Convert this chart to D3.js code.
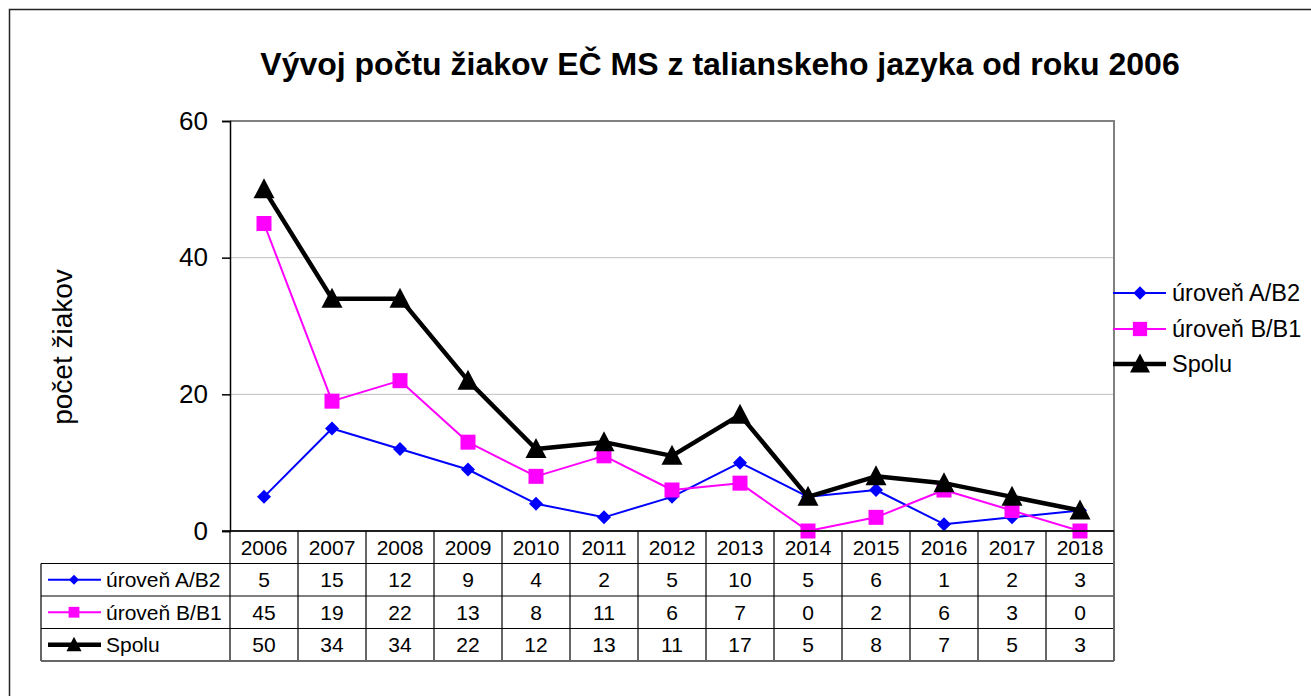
<!DOCTYPE html>
<html><head><meta charset="utf-8">
<script src="https://cdn.jsdelivr.net/npm/d3@7"></script>
<style>body{margin:0;background:#fff}svg{display:block;font-family:Arial,"Liberation Sans",sans-serif}</style>
</head><body><svg id="c" width="1311" height="696"></svg>
<script>
const years = ["2006","2007","2008","2009","2010","2011","2012","2013","2014","2015","2016","2017","2018"];
const seriesNames = ["úroveň A/B2","úroveň B/B1","Spolu"];
const valuesAB2 = [5,15,12,9,4,2,5,10,5,6,1,2,3];
const valuesBB1 = [45,19,22,13,8,11,6,7,0,2,6,3,0];
const valuesSpolu = [50,34,34,22,12,13,11,17,5,8,7,5,3];
const yTicks = [0,20,40,60];
const titleText = "Vývoj počtu žiakov EČ MS z talianskeho jazyka od roku 2006";
const yTitle = "počet žiakov";

const series = [
  {name: seriesNames[0], values: valuesAB2, color: "#0000FF", width: 2, marker: "diamond"},
  {name: seriesNames[1], values: valuesBB1, color: "#FF00FF", width: 2, marker: "square"},
  {name: seriesNames[2], values: valuesSpolu, color: "#000000", width: 4.5, marker: "triangle"}
];

const svg = d3.select("#c");
svg.append("rect").attr("x",9.5).attr("y",9.5).attr("width",1400).attr("height",800)
  .attr("fill","#fff").attr("stroke","#222").attr("stroke-width",1.5);

const L=230, R=1114, T=121, B=531;
const x = d3.scaleBand().domain(years).range([L,R]);
const y = d3.scaleLinear().domain([0,60]).range([B,T]);

svg.append("text").attr("x",720).attr("y",75).attr("text-anchor","middle")
  .attr("font-size",32).attr("font-weight","bold").text(titleText);

svg.append("g").selectAll("line").data(yTicks.filter(d=>d>0&&d<60)).join("line")
  .attr("x1",L).attr("x2",R).attr("y1",d=>y(d)).attr("y2",d=>y(d))
  .attr("stroke","#c0c0c0").attr("stroke-width",1);

svg.append("path").attr("d",`M${L},${T}H${R}V${B}`).attr("fill","none")
  .attr("stroke","#808080").attr("stroke-width",2);

const yAxis = d3.axisLeft(y).tickValues(yTicks).tickSize(8).tickPadding(14).tickFormat(d3.format("d"));
const gy = svg.append("g").attr("transform",`translate(${L},0)`).call(yAxis);
gy.select(".domain").attr("stroke","#000").attr("stroke-width",1.5);
gy.selectAll(".tick line").attr("stroke","#000").attr("stroke-width",1.5);
gy.selectAll(".tick text").attr("font-size",26).attr("fill","#000").attr("font-family","Arial,'Liberation Sans',sans-serif");

svg.append("text").attr("transform","translate(72,347) rotate(-90)").attr("text-anchor","middle")
  .attr("font-size",28).text(yTitle);

function drawMarker(g, type, cx, cy, color, scale=1){
  if(type==="diamond"){
    const s=7*scale;
    g.append("path").attr("d",`M${cx},${cy-s}L${cx+s},${cy}L${cx},${cy+s}L${cx-s},${cy}Z`).attr("fill",color);
  } else if(type==="square"){
    const s=7.5*scale;
    g.append("rect").attr("x",cx-s).attr("y",cy-s).attr("width",2*s).attr("height",2*s).attr("fill",color);
  } else {
    const w=10.5*scale;
    g.append("path").attr("d",`M${cx},${cy-11*scale}L${cx+w},${cy+9*scale}L${cx-w},${cy+9*scale}Z`).attr("fill",color);
  }
}

const line = d3.line().x((d,i)=>x(years[i])+x.bandwidth()/2).y(d=>y(d));
const gl = svg.append("g");
series.forEach(s=>{
  gl.append("path").attr("d",line(s.values)).attr("fill","none").attr("stroke",s.color)
    .attr("stroke-width",s.width).attr("stroke-linejoin","round");
  s.values.forEach((v,i)=>drawMarker(gl,s.marker,x(years[i])+x.bandwidth()/2,y(v),s.color));
});

const TL=41, rowH=32.5;
const rowsY=[B, B+rowH, B+2*rowH, B+3*rowH, B+4*rowH];
const gt = svg.append("g");
years.forEach(yr=>{
  gt.append("text").attr("x",x(yr)+x.bandwidth()/2).attr("y",rowsY[0]+rowH/2).attr("dy","0.36em")
    .attr("text-anchor","middle").attr("font-size",21).text(yr);
});
series.forEach((s,r)=>{
  const cy=rowsY[r+1]+rowH/2;
  s.values.forEach((v,i)=>{
    gt.append("text").attr("x",x(years[i])+x.bandwidth()/2).attr("y",cy).attr("dy","0.36em")
      .attr("text-anchor","middle").attr("font-size",21).text(v);
  });
  gt.append("line").attr("x1",48).attr("x2",101).attr("y1",cy).attr("y2",cy)
    .attr("stroke",s.color).attr("stroke-width",s.width);
  drawMarker(gt,s.marker,74,cy,s.color,0.72);
  gt.append("text").attr("x",106).attr("y",cy).attr("dy","0.36em").attr("font-size",21).text(s.name);
});
const tg = svg.append("g").attr("stroke","#000").attr("stroke-width",1.2);
rowsY.forEach((yy,k)=>{
  tg.append("line").attr("x1",k===0?L:TL).attr("x2",R).attr("y1",yy).attr("y2",yy);
});
tg.append("line").attr("x1",TL).attr("x2",TL).attr("y1",rowsY[1]).attr("y2",rowsY[4]);
years.forEach(yr=>{
  tg.append("line").attr("x1",x(yr)).attr("x2",x(yr)).attr("y1",rowsY[0]).attr("y2",rowsY[4]);
});
tg.append("line").attr("x1",R).attr("x2",R).attr("y1",rowsY[0]).attr("y2",rowsY[4]).attr("stroke","#666").attr("stroke-width",2);
tg.append("line").attr("x1",TL).attr("x2",R).attr("y1",rowsY[4]).attr("y2",rowsY[4]).attr("stroke","#666").attr("stroke-width",2);
svg.append("line").attr("x1",L-8).attr("x2",R).attr("y1",B).attr("y2",B).attr("stroke","#000").attr("stroke-width",1.5);

const lg = svg.append("g");
const legY=[293,329,364];
series.forEach((s,i)=>{
  lg.append("line").attr("x1",1113).attr("x2",1166).attr("y1",legY[i]).attr("y2",legY[i])
    .attr("stroke",s.color).attr("stroke-width",s.width);
  drawMarker(lg,s.marker,1140,legY[i],s.color,0.95);
  lg.append("text").attr("x",1172).attr("y",legY[i]).attr("dy","0.36em").attr("font-size",23.5).text(s.name);
});
</script></body></html>
